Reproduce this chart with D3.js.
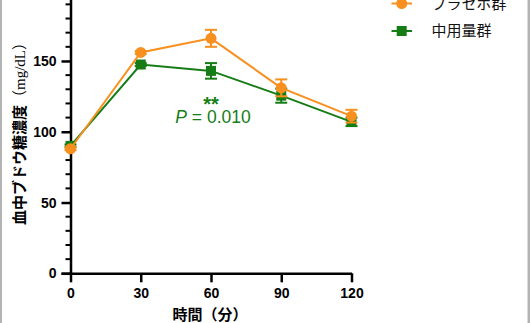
<!DOCTYPE html>
<html><head><meta charset="utf-8">
<script src="https://cdn.jsdelivr.net/npm/d3@7"></script>
<style>html,body{margin:0;padding:0;background:#fff;}svg{display:block;}</style>
</head><body>
<svg id="c" width="530" height="323"></svg>
<script>
const times = [0, 30, 60, 90, 120];
const placeboMean = [88, 156, 166, 131, 111];
const placeboErr = [1, 1, 6, 6, 4.5];
const midMean = [90, 147.5, 143, 125.5, 107];
const midErr = [1, 1, 5.5, 5, 3];
const seriesNames = ["プラセボ群", "中用量群"];
const xTicks = [0, 30, 60, 90, 120];
const yMajor = [0, 50, 100, 150, 200];
const yTitle = "血中ブドウ糖濃度";
const yUnit = "（mg/dL）";
const xTitle = "時間（分）";
const annotStars = "**";
const annotP = "0.010";

const orange = "#f7901e", green = "#167d16";
const svg = d3.select("#c");
const x = d3.scaleLinear().domain([0,120]).range([70.5, 351.5]);
const y = d3.scaleLinear().domain([0,200]).range([273.3, -9.8]);

// borders
svg.append("rect").attr("x",0).attr("y",0).attr("width",2).attr("height",323).attr("fill","#b3b3b3");
svg.append("rect").attr("x",527.5).attr("y",0).attr("width",2.5).attr("height",323).attr("fill","#b3b3b3");

const tickFont = "bold 14px 'Liberation Sans', Arial, sans-serif";
// Y axis
const yAxis = d3.axisLeft(y).tickValues(yMajor).tickSize(9).tickPadding(5).tickFormat(d3.format("d"));
const gy = svg.append("g").attr("transform",`translate(${x(0)},0)`).call(yAxis);
gy.select(".domain").attr("stroke","#000").attr("stroke-width",2.5);
gy.selectAll(".tick line").attr("stroke","#000").attr("stroke-width",2.5);
gy.selectAll(".tick text").style("font",tickFont).attr("fill","#000");
const minor = d3.range(0,201,10).filter(v=>v%50!==0);
svg.append("g").attr("transform",`translate(${x(0)},0)`).selectAll("line").data(minor).join("line")
  .attr("x1",-5).attr("x2",0).attr("y1",d=>y(d)).attr("y2",d=>y(d)).attr("stroke","#000").attr("stroke-width",2);

// X axis
const xAxis = d3.axisBottom(x).tickValues(xTicks).tickSize(9).tickPadding(6).tickSizeOuter(0);
const gx = svg.append("g").attr("transform",`translate(0,${y(0)})`).call(xAxis);
gx.select(".domain").attr("stroke","#000").attr("stroke-width",2.5);
gx.selectAll(".tick line").attr("stroke","#000").attr("stroke-width",2.5);
gx.selectAll(".tick text").style("font",tickFont).attr("fill","#000");

// series
function drawSeries(means, errs, color, shape){
  const pts = times.map((t,i)=>({t, m:means[i], e:errs[i]}));
  const line = d3.line().x(d=>x(d.t)).y(d=>y(d.m));
  svg.append("path").datum(pts).attr("d",line).attr("fill","none").attr("stroke",color).attr("stroke-width",2);
  const g = svg.append("g");
  pts.forEach(d=>{
    const cx = x(d.t);
    g.append("line").attr("x1",cx).attr("x2",cx).attr("y1",y(d.m-d.e)).attr("y2",y(d.m+d.e)).attr("stroke",color).attr("stroke-width",2);
    [d.m-d.e, d.m+d.e].forEach(v=>g.append("line").attr("x1",cx-6).attr("x2",cx+6).attr("y1",y(v)).attr("y2",y(v)).attr("stroke",color).attr("stroke-width",2));
    if(shape==="circle") g.append("circle").attr("cx",cx).attr("cy",y(d.m)).attr("r",5.5).attr("fill",color);
    else g.append("rect").attr("x",cx-5).attr("y",y(d.m)-5).attr("width",10).attr("height",10).attr("fill",color);
  });
}
drawSeries(midMean, midErr, green, "square");
drawSeries(placeboMean, placeboErr, orange, "circle");

// annotation
svg.append("text").attr("x",211).attr("y",111).attr("text-anchor","middle").attr("fill",green)
  .style("font","bold 20px 'Liberation Sans', Arial, sans-serif").text(annotStars);
const pt = svg.append("text").attr("x",213).attr("y",123.3).attr("text-anchor","middle").attr("fill",green)
  .style("font","17.5px 'Liberation Sans', Arial, sans-serif");
pt.append("tspan").style("font-style","italic").text("P");
pt.append("tspan").text(" = " + annotP);

// legend
const leg = [{name:seriesNames[0], color:orange, shape:"circle", y:3.5},{name:seriesNames[1], color:green, shape:"square", y:31}];
leg.forEach(l=>{
  svg.append("line").attr("x1",391.5).attr("x2",412).attr("y1",l.y).attr("y2",l.y).attr("stroke",l.color).attr("stroke-width",2);
  if(l.shape==="circle") svg.append("circle").attr("cx",401.7).attr("cy",l.y).attr("r",5.5).attr("fill",l.color);
  else svg.append("rect").attr("x",401.7-5).attr("y",l.y-5).attr("width",10).attr("height",10).attr("fill",l.color);
  svg.append("text").attr("x",431.5).attr("y",l.y).attr("dy","0.36em").attr("fill","#111")
    .style("font","15px 'Noto Sans CJK JP', sans-serif").text(l.name);
});

// y title
const yt = svg.append("text").attr("transform","translate(25,130) rotate(-90)").attr("text-anchor","middle").attr("fill","#000");
yt.append("tspan").style("font","bold 15px 'Noto Sans CJK JP', sans-serif").text(yTitle);
yt.append("tspan").style("font","15px 'Liberation Serif', 'Noto Sans CJK JP', serif").text(yUnit);

// x title
svg.append("text").attr("x",210).attr("y",320).attr("text-anchor","middle").attr("fill","#000")
  .style("font","bold 15px 'Noto Sans CJK JP', sans-serif").text(xTitle);
</script>
</body></html>
